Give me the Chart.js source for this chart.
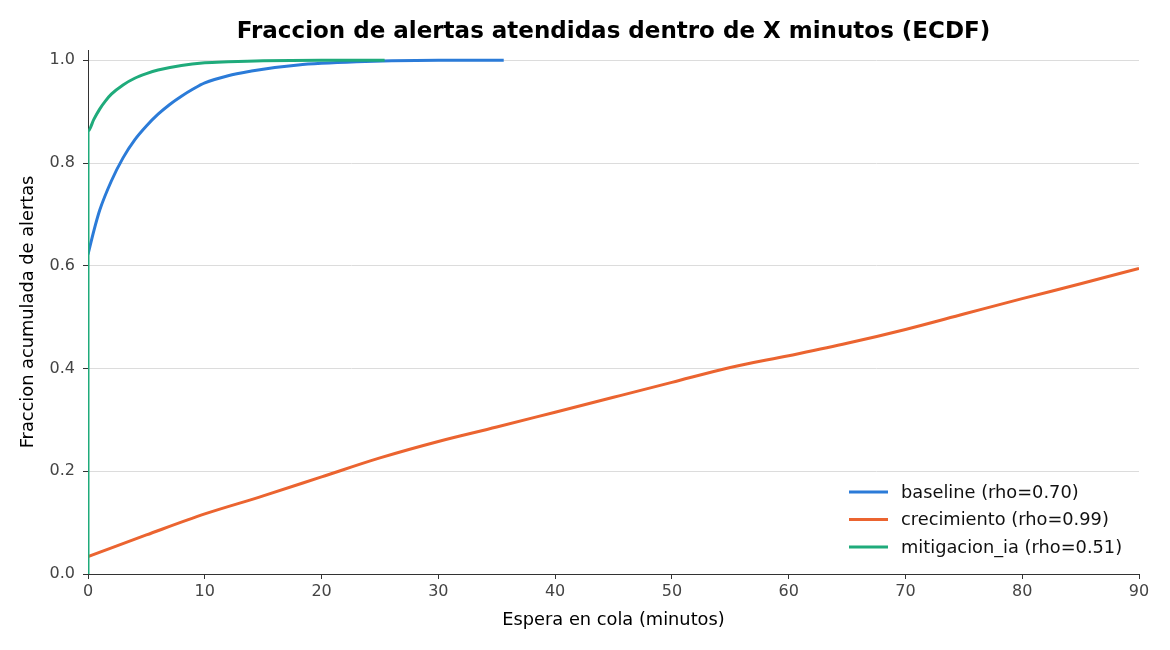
<!DOCTYPE html>
<html>
<head>
<meta charset="utf-8">
<script src="https://cdn.jsdelivr.net/npm/chart.js@4.4.1/dist/chart.umd.min.js"></script>
<style>
  html, body { margin: 0; padding: 0; background: #fff; }
  #wrap { width: 1170px; height: 650px; position: relative; }
</style>
</head>
<body>
<div id="wrap"><canvas id="ecdfChart"></canvas></div>
<script>
// ECDF series (minutes waited vs cumulative fraction)
const baselineX = [0, 0.5, 1, 2, 3, 4, 5, 6, 7, 8, 9, 10, 12, 14, 16, 18, 20, 23, 26, 30, 35.6];
const baselineY = [0.622, 0.668, 0.708, 0.765, 0.81, 0.845, 0.872, 0.895, 0.914, 0.93, 0.944, 0.956, 0.97, 0.979, 0.986, 0.991, 0.994, 0.997, 0.999, 1.0, 1.0];

const crecimientoX = [0, 5, 10, 15, 20, 25, 30, 35, 40, 45, 50, 55, 60, 65, 70, 75, 80, 85, 90];
const crecimientoY = [0.034, 0.076, 0.117, 0.152, 0.189, 0.226, 0.258, 0.286, 0.315, 0.344, 0.373, 0.402, 0.425, 0.449, 0.476, 0.506, 0.536, 0.565, 0.595];

const mitigacionX = [0, 0, 0.5, 1, 1.5, 2, 3, 4, 5, 6, 8, 10, 12, 15, 20, 25.4];
const mitigacionY = [0, 0.862, 0.885, 0.905, 0.921, 0.934, 0.952, 0.965, 0.974, 0.981, 0.99, 0.995, 0.997, 0.999, 1.0, 1.0];

const seriesLabels = ['baseline (rho=0.70)', 'crecimiento (rho=0.99)', 'mitigacion_ia (rho=0.51)'];
const seriesColors = ['#2b7bd8', '#eb6430', '#1fab7b'];

const xTicks = [0, 10, 20, 30, 40, 50, 60, 70, 80, 90];
const yTicks = [0, 0.2, 0.4, 0.6, 0.8, 1.0];

const FONT = "'DejaVu Sans', sans-serif";

function toPoints(xs, ys) {
  return xs.map((x, i) => ({ x, y: ys[i] }));
}

// Legend drawn inside the plot, lower right (matplotlib style)
const innerLegend = {
  id: 'innerLegend',
  afterDatasetsDraw(chart) {
    const ctx = chart.ctx;
    const area = chart.chartArea;
    const x0 = area.right - 290;
    const y0 = area.bottom - 82;
    ctx.save();
    ctx.font = '17.8px ' + FONT;
    ctx.textBaseline = 'middle';
    chart.data.datasets.forEach((ds, i) => {
      const y = y0 + i * 27.5;
      ctx.strokeStyle = ds.borderColor;
      ctx.lineWidth = 3;
      ctx.beginPath();
      ctx.moveTo(x0, y);
      ctx.lineTo(x0 + 39, y);
      ctx.stroke();
      ctx.fillStyle = '#111';
      ctx.fillText(ds.label, x0 + 52, y + 1);
    });
    ctx.restore();
  }
};

const datasets = [
  { xs: baselineX, ys: baselineY, order: 2 },
  { xs: crecimientoX, ys: crecimientoY, order: 1 },
  { xs: mitigacionX, ys: mitigacionY, order: 0 }
].map((s, i) => ({
  label: seriesLabels[i],
  data: toPoints(s.xs, s.ys),
  borderColor: seriesColors[i],
  backgroundColor: seriesColors[i],
  borderWidth: 3,
  pointRadius: 0,
  showLine: true,
  fill: false,
  cubicInterpolationMode: 'monotone',
  order: s.order
}));

new Chart(document.getElementById('ecdfChart'), {
  type: 'scatter',
  data: { datasets },
  options: {
    responsive: true,
    maintainAspectRatio: false,
    animation: false,
    layout: { padding: { left: 0, right: 31, top: 0, bottom: 0 } },
    plugins: {
      legend: { display: false },
      tooltip: { enabled: false },
      title: {
        display: true,
        fullSize: false,
        text: 'Fraccion de alertas atendidas dentro de X minutos (ECDF)',
        color: '#000',
        font: { family: FONT, size: 23, weight: 'bold' },
        padding: { top: 18, bottom: 4.4 }
      }
    },
    scales: {
      x: {
        type: 'linear',
        min: 0,
        max: 90,
        afterBuildTicks: scale => { scale.ticks = xTicks.map(v => ({ value: v })); },
        afterFit: scale => { scale.height = 76; },
        grid: { drawOnChartArea: false, drawTicks: true, tickLength: 5, tickColor: '#333' },
        border: { display: true, color: '#333', width: 1 },
        ticks: { color: '#444', font: { family: FONT, size: 16 }, padding: 3, maxRotation: 0 },
        title: {
          display: true,
          text: 'Espera en cola (minutos)',
          color: '#000',
          font: { family: FONT, size: 17.8 },
          padding: { top: 0, bottom: 19 }
        }
      },
      y: {
        type: 'linear',
        min: 0,
        max: 1.02,
        afterBuildTicks: scale => { scale.ticks = yTicks.map(v => ({ value: v })); },
        afterFit: scale => { scale.width = 88; },
        grid: { color: '#dcdcdc', lineWidth: 1, drawTicks: true, tickLength: 5, tickColor: '#333' },
        border: { display: true, color: '#333', width: 1 },
        ticks: {
          color: '#444',
          font: { family: FONT, size: 16 },
          padding: 8,
          callback: v => v.toFixed(1)
        },
        title: {
          display: true,
          text: 'Fraccion acumulada de alertas',
          color: '#000',
          font: { family: FONT, size: 17.8 },
          padding: { top: 18, bottom: 0 }
        }
      }
    }
  },
  plugins: [innerLegend]
});
</script>
</body>
</html>
